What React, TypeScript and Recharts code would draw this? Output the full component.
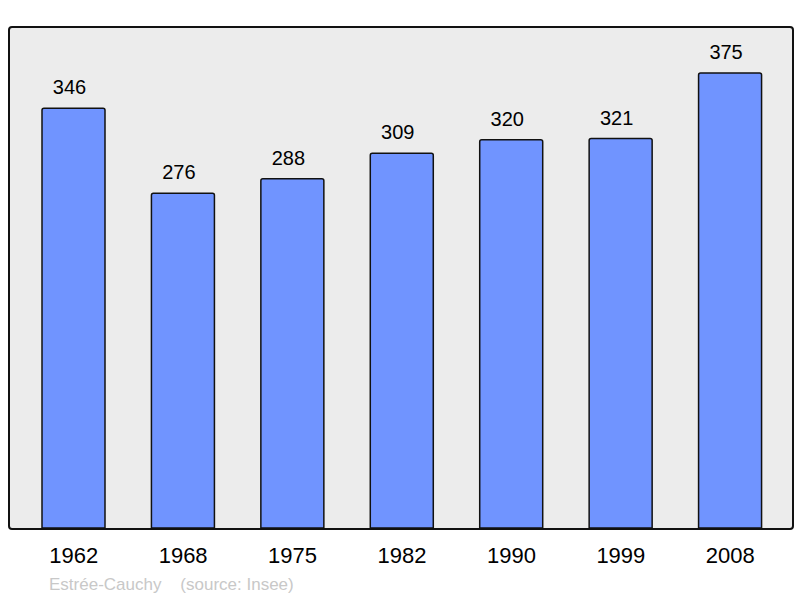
import { BarChart, Bar, XAxis, YAxis, LabelList } from 'recharts';

// population by census year
const years = ['1962', '1968', '1975', '1982', '1990', '1999', '2008'];
const population = [346, 276, 288, 309, 320, 321, 375];

const data = years.map((year, i) => ({ year, population: population[i] }));

const FONT = '"Liberation Sans", Arial, sans-serif';

export default function App() {
  return (
    <div style={{ position: 'absolute', left: 0, top: 0, width: 800, height: 598, background: '#fff' }}>
      {/* plot background and frame */}
      <div
        style={{
          position: 'absolute',
          left: 8,
          top: 26,
          width: 782,
          height: 500,
          background: '#ececec',
          border: '2px solid #111',
          borderRadius: 4,
        }}
      />
      <div style={{ position: 'absolute', left: 0, top: 0 }}>
        <BarChart
          width={800}
          height={598}
          data={data}
          margin={{ top: 27, right: 8, left: 9, bottom: 30 }}
          barCategoryGap={0}
        >
          <XAxis
            dataKey="year"
            height={40}
            axisLine={false}
            tickLine={false}
            tickMargin={13}
            padding={{ left: 10, right: 7 }}
            tick={{ fontSize: 22, fill: '#000', fontFamily: FONT }}
            interval={0}
          />
          <YAxis hide domain={[0, 413]} />
          <Bar
            dataKey="population"
            fill="#7094ff"
            stroke="#111"
            strokeWidth={1.5}
            barSize={63}
            radius={[2, 2, 0, 0]}
            isAnimationActive={false}
          >
            <LabelList
              dataKey="population"
              position="top"
              offset={14}
              dx={-4}
              style={{ fontSize: 20, fill: '#000', fontFamily: FONT }}
            />
          </Bar>
        </BarChart>
      </div>
      <div
        style={{
          position: 'absolute',
          left: 49,
          top: 575,
          fontSize: 17,
          color: '#c8c8c8',
          fontFamily: FONT,
          whiteSpace: 'pre',
        }}
      >
        {'Estrée-Cauchy    (source: Insee)'}
      </div>
    </div>
  );
}
